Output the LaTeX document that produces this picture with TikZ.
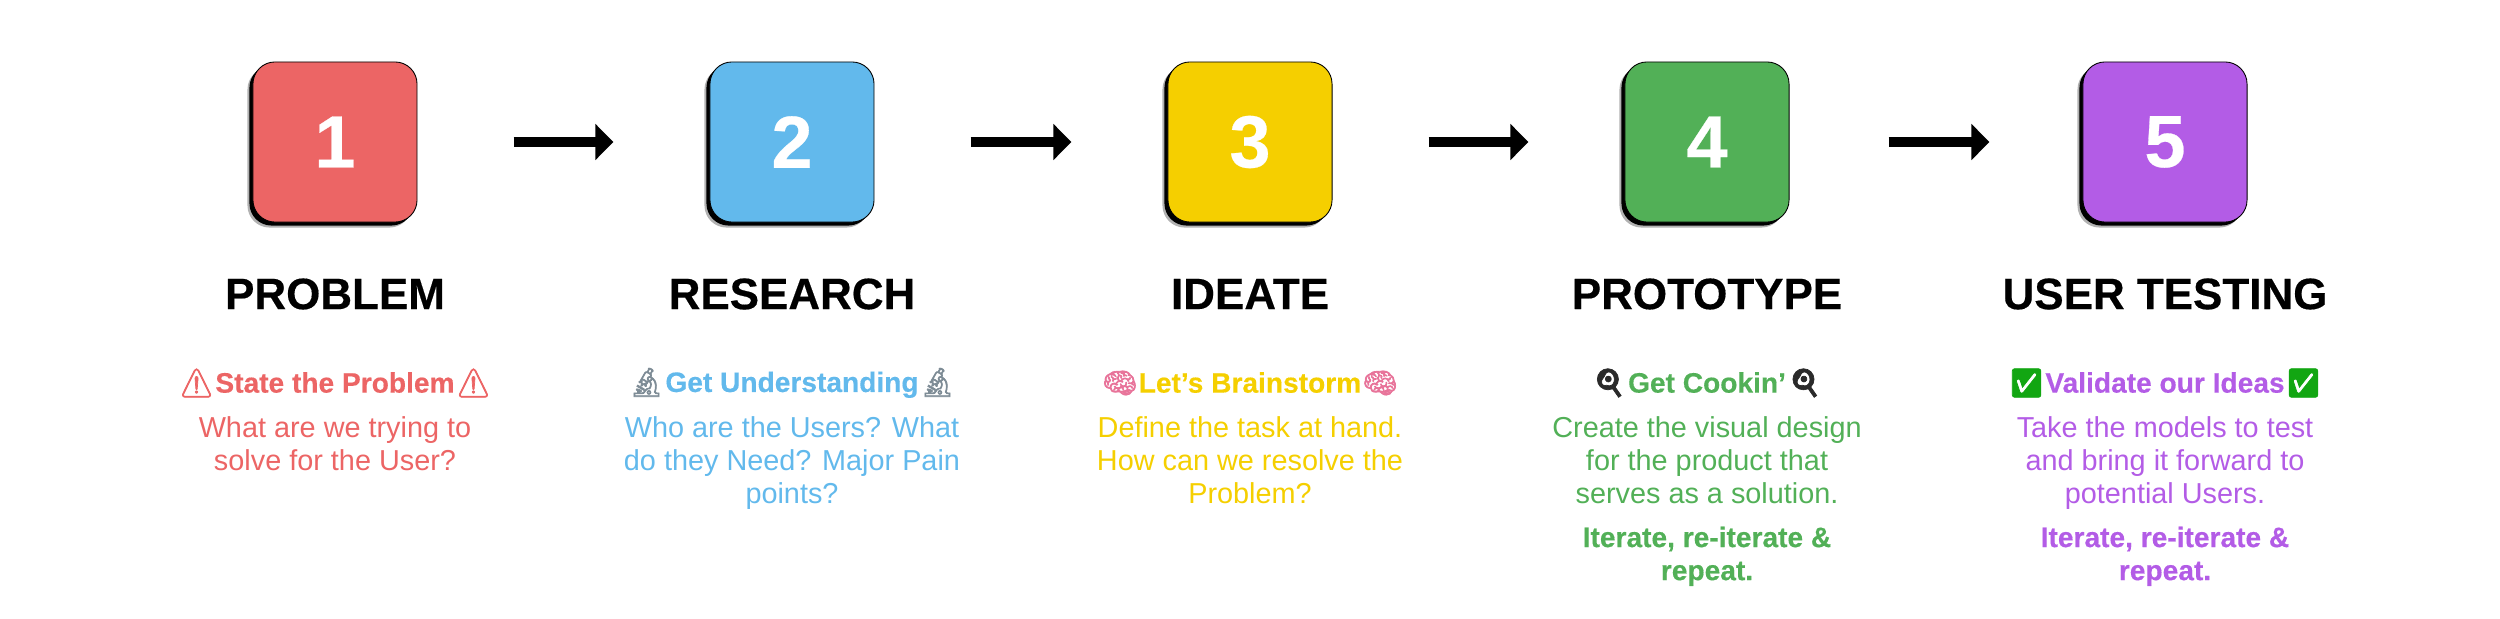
\documentclass[tikz,border=0pt]{standalone}
\usepackage{fontspec}
\usetikzlibrary{arrows.meta,shadows}
\setmainfont{Liberation Sans}[BoldFeatures={FakeBold=.35}]
\newfontfamily\emojifont{Noto Emoji}[FakeBold=2.5]
\definecolor{StepRed}{HTML}{EC6565}
\definecolor{StepBlue}{HTML}{62B9EC}
\definecolor{StepYellow}{HTML}{F5CF00}
\definecolor{StepGreen}{HTML}{52B057}
\definecolor{StepPurple}{HTML}{B35CE6}
\definecolor{MicroGray}{HTML}{7E8C96}
\definecolor{BrainPink}{HTML}{E8749A}
\definecolor{PanDark}{HTML}{2A2A2A}
\definecolor{CheckGreen}{HTML}{12A612}
\tikzset{
  stepbox/.style={rounded corners=.22cm, draw=black, line width=.25pt, minimum width=1.64cm, minimum height=1.6cm, inner sep=0pt, text=white, font=\bfseries\fontsize{21}{21}\selectfont,
    drop shadow={shadow xshift=-.055cm, shadow yshift=-.055cm, fill=black, opacity=.3},
    drop shadow={shadow xshift=-.035cm, shadow yshift=-.035cm, fill=black, opacity=1}},
  titletext/.style={font=\bfseries\fontsize{12.5}{14}\selectfont, inner sep=0pt},
  headtext/.style={font=\bfseries\fontsize{8}{9}\selectfont, inner sep=0pt},
  bodytext/.style={font=\fontsize{8.2}{9.4}\selectfont, align=center, anchor=north, inner sep=0pt},
  iter/.style={bodytext, font=\bfseries\fontsize{8}{9.4}\selectfont},
  arr/.style={-{Triangle[length=.18cm, width=.35cm]}, line width=.1cm, draw=black, shorten <=.96cm, shorten >=.96cm}
}
\begin{document}
\begin{tikzpicture}[x=.01cm,y=-.01cm]
\useasboundingbox (0,0) rectangle (2500,618);
\foreach \i/\cx/\col/\ttl/\hd/\emo/\emocol/\txt in {
  1/335/StepRed/PROBLEM/State the Problem/⚠/StepRed/{What are we trying to\\solve for the User?},
  2/792/StepBlue/RESEARCH/Get Understanding/🔬/MicroGray/{Who are the Users? What\\do they Need? Major Pain\\points?},
  3/1250/StepYellow/IDEATE/Let’s Brainstorm/🧠/BrainPink/{Define the task at hand.\\How can we resolve the\\Problem?},
  4/1707/StepGreen/PROTOTYPE/Get Cookin’/🍳/PanDark/{Create the visual design\\for the product that\\serves as a solution.},
  5/2165/StepPurple/USER TESTING/Validate our Ideas/✅/CheckGreen/{Take the models to test\\and bring it forward to\\potential Users.}}{
  \node[stepbox,fill=\col] (box\i) at (\cx,142) {\i};
  \node[titletext] (title\i) at (\cx,294) {\ttl};
  \node[headtext,text=\col] (head\i) at (\cx,383) {{\emojifont\color{\emocol}\emo}\hspace{.01cm}\hd\hspace{.01cm}{\emojifont\color{\emocol}\emo}};
  \node[bodytext,text=\col] (body\i) at (\cx,416) {\txt};
}
\node[iter,text=StepGreen] (iter4) at (1707,526) {Iterate, re-iterate \&\\repeat.};
\node[iter,text=StepPurple] (iter5) at (2165,526) {Iterate, re-iterate \&\\repeat.};
\draw[arr] (box1) -- (box2);
\draw[arr] (box2) -- (box3);
\draw[arr] (box3) -- (box4);
\draw[arr,shorten <=.99cm,shorten >=.93cm] (box4) -- (box5);
\end{tikzpicture}
\end{document}
